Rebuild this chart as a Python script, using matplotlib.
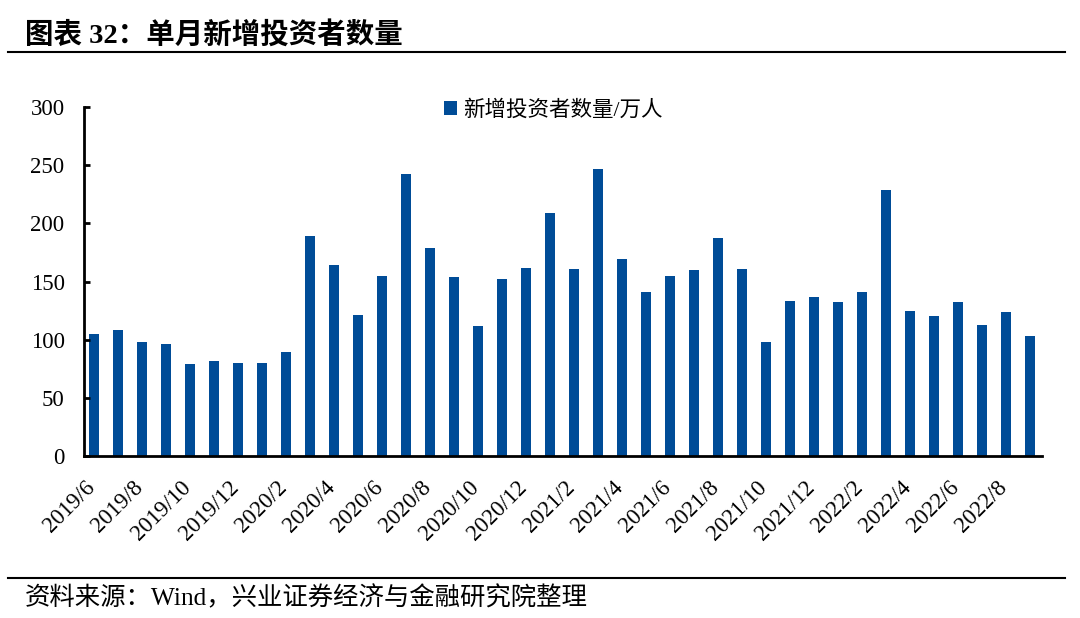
import matplotlib
matplotlib.use("Agg")
import matplotlib.pyplot as plt
from matplotlib.lines import Line2D
from matplotlib.transforms import ScaledTranslation

plt.rcParams['font.family'] = ['Liberation Serif', 'Noto Sans CJK SC', 'DejaVu Sans']

# monthly new investors, 10k people, 2019/6 .. 2022/9
months = []
for y in range(2019, 2023):
    for m in range(1, 13):
        if (y == 2019 and m < 6) or (y == 2022 and m > 9):
            continue
        months.append(f"{y}/{m}")

new_investors = [105, 108, 98, 96, 79, 82, 80, 80, 89, 189,
                 164, 121, 155, 242, 179, 154, 112, 152, 162, 209,
                 161, 247, 169, 141, 155, 160, 187, 161, 98, 133,
                 137, 132, 141, 229, 125, 120, 132, 113, 124, 103]

series_name = "新增投资者数量/万人"
title = "图表 32：单月新增投资者数量"
source = "资料来源：Wind，兴业证券经济与金融研究院整理"
bar_color = "#004C97"

fig = plt.figure(figsize=(10.8, 6.18), dpi=100)
ax = fig.add_axes([84/1080, 1-456/618, (1042-84)/1080, (456-107)/618])

x = list(range(len(months)))
ax.bar(x, new_investors, width=0.42, color=bar_color, label=series_name)

ax.set_xlim(-0.42, len(months) - 0.5)
ax.set_ylim(0, 300)
ax.set_yticks(range(0, 301, 50))
ax.tick_params(axis='y', direction='in', length=4, width=2, labelsize=16.5, pad=14)
ax.set_xticks(x[::2])
ax.set_xticklabels(months[::2], rotation=45, ha='right', rotation_mode='anchor', fontsize=16.5)
ax.tick_params(axis='x', length=0, pad=15)
# labels sit a little left of their bars
shift = ScaledTranslation(-10/100, 0, fig.dpi_scale_trans)
for lbl in ax.get_xticklabels():
    lbl.set_transform(lbl.get_transform() + shift)
for side in ['top', 'right']:
    ax.spines[side].set_visible(False)
for side in ['left', 'bottom']:
    ax.spines[side].set_linewidth(2)

ax.legend(loc='upper center', bbox_to_anchor=(0.49, 1.075), frameon=False,
          fontsize=15.5, handlelength=0.6, handleheight=0.6, handletextpad=0.3)

fig.text(25/1080, 1-35/618, title, fontsize=20.5, fontweight='bold', va='center')
fig.add_artist(Line2D([8/1080, 1065/1080], [1-52/618, 1-52/618], color='black', lw=1.5))
fig.add_artist(Line2D([8/1080, 1065/1080], [1-578/618, 1-578/618], color='black', lw=1.5))
fig.text(25/1080, 1-598/618, source, fontsize=18.3, va='center')

fig.savefig("out.png", dpi=100)
